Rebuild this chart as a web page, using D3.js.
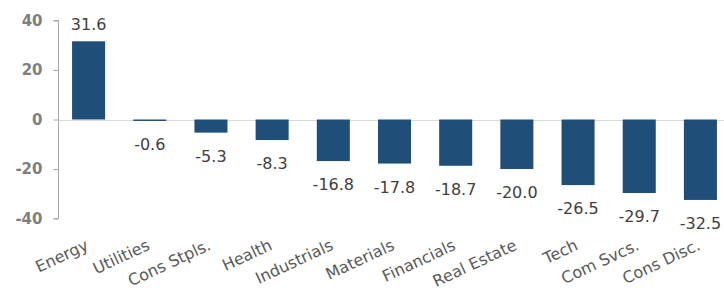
<!DOCTYPE html>
<html>
<head>
<meta charset="utf-8">
<script src="https://cdn.jsdelivr.net/npm/d3@7"></script>
<style>
  body { margin: 0; background: #fff; }
  text { font-family: "DejaVu Sans", sans-serif; }
</style>
</head>
<body>
<div id="chart"></div>
<script>
const width = 724, height = 292;

const sectors = ["Energy", "Utilities", "Cons Stpls.", "Health", "Industrials", "Materials",
  "Financials", "Real Estate", "Tech", "Com Svcs.", "Cons Disc."];
const returns = [31.6, -0.6, -5.3, -8.3, -16.8, -17.8, -18.7, -20.0, -26.5, -29.7, -32.5];
const yTicks = [40, 20, 0, -20, -40];

const data = sectors.map((s, i) => ({ sector: s, value: returns[i] }));

// plain hyphen for negatives, like the original
const fmtVal = (v) => d3.format(".1f")(v).replace("\u2212", "-");
const fmtTick = (v) => d3.format("d")(v).replace("\u2212", "-");

let svg = d3.select("#chart")
  .append("svg")
  .attr("width", width)
  .attr("height", height);

let x = d3.scaleBand()
  .domain(sectors)
  .range([58, 731])
  .paddingInner(0.46)
  .paddingOuter(0.23);

let y = d3.scaleLinear()
  .domain([-40, 40])
  .range([218.5, 20.5]);

// y axis
let yAxis = svg.append("g")
  .attr("transform", "translate(58.5,0)")
  .call(d3.axisLeft(y).tickValues(yTicks).tickSize(5).tickPadding(11).tickFormat(fmtTick));
yAxis.select(".domain").attr("stroke", "#a6a6a6").attr("d", "M0," + y(40) + "V" + y(-40) + "H-5M0," + y(40) + "H-5");
yAxis.selectAll(".tick line").attr("stroke", "#a6a6a6");
yAxis.selectAll(".tick text")
  .attr("fill", "#7f7f7f")
  .style("font-size", "15px")
  .style("font-weight", "bold")
  .style("font-family", "'DejaVu Sans', sans-serif");

// zero line
svg.append("line")
  .attr("x1", 58.5).attr("x2", width)
  .attr("y1", Math.round(y(0)) + 0.5).attr("y2", Math.round(y(0)) + 0.5)
  .attr("stroke", "#d9d9d9");

// bars
svg.append("g").selectAll("rect")
  .data(data)
  .join("rect")
  .attr("x", (d) => x(d.sector))
  .attr("width", x.bandwidth())
  .attr("y", (d) => y(Math.max(0, d.value)))
  .attr("height", (d) => Math.abs(y(d.value) - y(0)))
  .attr("fill", "#1f4e79");

// value labels
svg.append("g").selectAll("text")
  .data(data)
  .join("text")
  .attr("x", (d) => x(d.sector) + x.bandwidth() / 2)
  .attr("y", (d) => d.value >= 0 ? y(d.value) - 11 : y(d.value) + 29)
  .attr("text-anchor", "middle")
  .attr("fill", "#404040")
  .style("font-size", "16px")
  .text((d) => fmtVal(d.value));

// category labels
svg.append("g").selectAll("text")
  .data(data)
  .join("text")
  .attr("transform", (d) => "translate(" + (x(d.sector) + x.bandwidth() / 2 + 1) + ",249) rotate(-25)")
  .attr("text-anchor", "end")
  .attr("fill", "#595959")
  .style("font-size", "16px")
  .text((d) => d.sector);
</script>
</body>
</html>
